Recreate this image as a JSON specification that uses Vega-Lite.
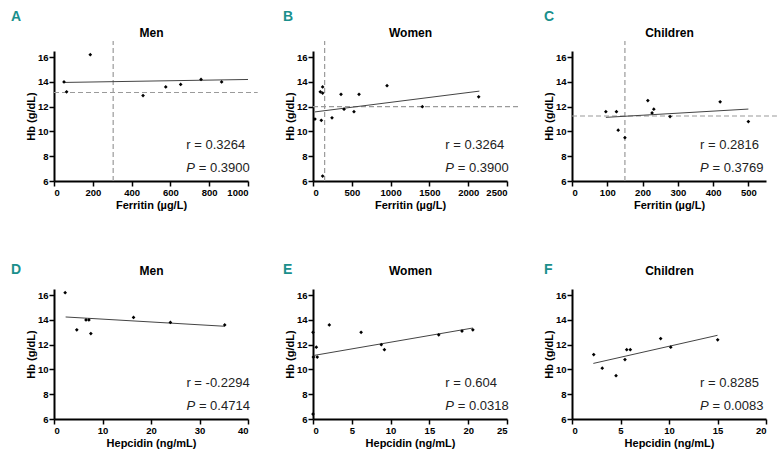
{
  "$schema": "https://vega.github.io/schema/vega-lite/v6.json",
  "background": "white",
  "padding": {"left": 11, "top": 10, "right": 0, "bottom": 0},
  "columns": 3,
  "bounds": "flush",
  "spacing": {"row": 108, "column": 65},
  "config": {
    "view": {"stroke": null},
    "axis": {
      "grid": false,
      "domainColor": "#000",
      "domainWidth": 2,
      "tickColor": "#000",
      "tickWidth": 1.5,
      "tickSize": 5,
      "labelFont": "Liberation Sans",
      "labelFontWeight": "bold",
      "labelFontSize": 9.5,
      "labelColor": "#000",
      "labelPadding": 1,
      "format": "d",
      "titleFont": "Liberation Sans",
      "titleFontWeight": "bold",
      "titleFontSize": 11,
      "titleColor": "#000",
      "titlePadding": 3
    },
    "axisY": {"labelOverlap": false, "titlePadding": 1},
    "title": {
      "anchor": "start",
      "frame": "group",
      "font": "Liberation Sans",
      "fontWeight": "bold",
      "fontSize": 14,
      "color": "#1a8f8c",
      "offset": 2
    },
    "text": {"font": "Liberation Sans", "fontSize": 13, "color": "#222", "align": "left", "baseline": "middle"}
  },
  "concat": [
    {
      "width": 194, "height": 130,
      "title": {"text": "A", "dx": -43},
      "resolve": {"axis": {"x": "independent"}},
      "layer": [
        {
          "data": {"values": [{"x": 305, "x2": 305, "y": 6, "y2": 17.3}, {"x": 0, "x2": 1050, "y": 13.15, "y2": 13.15}]},
          "mark": {"type": "rule", "strokeDash": [5, 3], "color": "#9a9a9a", "strokeWidth": 1.2, "clip": false},
          "encoding": {"x": {"field": "x", "type": "quantitative", "axis": null}, "x2": {"field": "x2"}, "y": {"field": "y", "type": "quantitative", "title": "Hb (g/dL)", "scale": {"domain": [6, 16.5], "nice": false, "zero": false}, "axis": {"values": [6, 8, 10, 12, 14, 16], "labelOverlap": false}}, "y2": {"field": "y2"}}
        },
        {
          "data": {"values": [{"x": 52, "y": 13.96}, {"x": 1000, "y": 14.2}]},
          "mark": {"type": "line", "color": "#444", "strokeWidth": 1},
          "encoding": {"x": {"field": "x", "type": "quantitative", "axis": {"orient": "top", "title": "Men", "labels": false, "ticks": false, "domain": false, "titleFont": "Liberation Sans", "titleFontSize": 12, "titlePadding": 12}}, "y": {"field": "y", "type": "quantitative", "title": "Hb (g/dL)", "scale": {"domain": [6, 16.5], "nice": false, "zero": false}, "axis": {"values": [6, 8, 10, 12, 14, 16], "labelOverlap": false}}}
        },
        {
          "data": {"values": [{"x": 51.5, "y": 14.0}, {"x": 65, "y": 13.2}, {"x": 187, "y": 16.2}, {"x": 459, "y": 12.9}, {"x": 576, "y": 13.6}, {"x": 653, "y": 13.8}, {"x": 758, "y": 14.2}, {"x": 864, "y": 14.0}]},
          "mark": {"type": "point", "shape": "diamond", "filled": true, "color": "#000", "size": 14, "opacity": 1},
          "encoding": {
            "x": {"field": "x", "type": "quantitative", "title": "Ferritin (µg/L)", "scale": {"domain": [0, 1000], "nice": false}, "axis": {"values": [0, 200, 400, 600, 800, 1000]}},
            "y": {"field": "y", "type": "quantitative", "title": "Hb (g/dL)", "scale": {"domain": [6, 16.5], "nice": false, "zero": false}, "axis": {"values": [6, 8, 10, 12, 14, 16], "labelOverlap": false}}
          }
        },
        {
          "data": {"values": [{"x": 682, "y": 8.9, "label": "r = 0.3264"}]},
          "mark": {"type": "text"},
          "encoding": {"x": {"field": "x", "type": "quantitative", "axis": null}, "y": {"field": "y", "type": "quantitative", "title": "Hb (g/dL)", "scale": {"domain": [6, 16.5], "nice": false, "zero": false}, "axis": {"values": [6, 8, 10, 12, 14, 16], "labelOverlap": false}}, "text": {"field": "label"}}
        },
        {
          "data": {"values": [{"x": 682, "y": 7.05, "label": "= 0.3900"}]},
          "mark": {"type": "text", "dx": 12.5},
          "encoding": {"x": {"field": "x", "type": "quantitative", "axis": null}, "y": {"field": "y", "type": "quantitative", "title": "Hb (g/dL)", "scale": {"domain": [6, 16.5], "nice": false, "zero": false}, "axis": {"values": [6, 8, 10, 12, 14, 16], "labelOverlap": false}}, "text": {"field": "label"}}
        },
        {
          "data": {"values": [{"x": 682, "y": 7.05, "label": "P"}]},
          "mark": {"type": "text", "fontStyle": "italic"},
          "encoding": {"x": {"field": "x", "type": "quantitative", "axis": null}, "y": {"field": "y", "type": "quantitative", "title": "Hb (g/dL)", "scale": {"domain": [6, 16.5], "nice": false, "zero": false}, "axis": {"values": [6, 8, 10, 12, 14, 16], "labelOverlap": false}}, "text": {"field": "label"}}
        }
      ]
    },
    {
      "width": 194, "height": 130,
      "title": {"text": "B", "dx": -30},
      "resolve": {"axis": {"x": "independent"}},
      "layer": [
        {
          "data": {"values": [{"x": 150, "x2": 150, "y": 6, "y2": 17.3}, {"x": 0, "x2": 2672, "y": 12.0, "y2": 12.0}]},
          "mark": {"type": "rule", "strokeDash": [5, 3], "color": "#9a9a9a", "strokeWidth": 1.2, "clip": false},
          "encoding": {"x": {"field": "x", "type": "quantitative", "axis": null}, "x2": {"field": "x2"}, "y": {"field": "y", "type": "quantitative", "title": "Hb (g/dL)", "scale": {"domain": [6, 16.5], "nice": false, "zero": false}, "axis": {"values": [6, 8, 10, 12, 14, 16], "labelOverlap": false}}, "y2": {"field": "y2"}}
        },
        {
          "data": {"values": [{"x": 25, "y": 11.58}, {"x": 2144, "y": 13.26}]},
          "mark": {"type": "line", "color": "#444", "strokeWidth": 1},
          "encoding": {"x": {"field": "x", "type": "quantitative", "axis": {"orient": "top", "title": "Women", "labels": false, "ticks": false, "domain": false, "titleFont": "Liberation Sans", "titleFontSize": 12, "titlePadding": 12}}, "y": {"field": "y", "type": "quantitative", "title": "Hb (g/dL)", "scale": {"domain": [6, 16.5], "nice": false, "zero": false}, "axis": {"values": [6, 8, 10, 12, 14, 16], "labelOverlap": false}}}
        },
        {
          "data": {"values": [{"x": 25, "y": 11.0}, {"x": 94, "y": 13.2}, {"x": 124, "y": 13.6}, {"x": 124, "y": 13.1}, {"x": 107, "y": 10.9}, {"x": 124, "y": 6.4}, {"x": 245, "y": 11.1}, {"x": 361, "y": 13.0}, {"x": 400, "y": 11.8}, {"x": 528, "y": 11.6}, {"x": 593, "y": 13.0}, {"x": 954, "y": 13.7}, {"x": 1409, "y": 12.0}, {"x": 2135, "y": 12.8}]},
          "mark": {"type": "point", "shape": "diamond", "filled": true, "color": "#000", "size": 14, "opacity": 1},
          "encoding": {
            "x": {"field": "x", "type": "quantitative", "title": "Ferritin (µg/L)", "scale": {"domain": [0, 2500], "nice": false}, "axis": {"values": [0, 500, 1000, 1500, 2000, 2500]}},
            "y": {"field": "y", "type": "quantitative", "title": "Hb (g/dL)", "scale": {"domain": [6, 16.5], "nice": false, "zero": false}, "axis": {"values": [6, 8, 10, 12, 14, 16], "labelOverlap": false}}
          }
        },
        {
          "data": {"values": [{"x": 1705, "y": 8.9, "label": "r = 0.3264"}]},
          "mark": {"type": "text"},
          "encoding": {"x": {"field": "x", "type": "quantitative", "axis": null}, "y": {"field": "y", "type": "quantitative", "title": "Hb (g/dL)", "scale": {"domain": [6, 16.5], "nice": false, "zero": false}, "axis": {"values": [6, 8, 10, 12, 14, 16], "labelOverlap": false}}, "text": {"field": "label"}}
        },
        {
          "data": {"values": [{"x": 1705, "y": 7.05, "label": "= 0.3900"}]},
          "mark": {"type": "text", "dx": 12.5},
          "encoding": {"x": {"field": "x", "type": "quantitative", "axis": null}, "y": {"field": "y", "type": "quantitative", "title": "Hb (g/dL)", "scale": {"domain": [6, 16.5], "nice": false, "zero": false}, "axis": {"values": [6, 8, 10, 12, 14, 16], "labelOverlap": false}}, "text": {"field": "label"}}
        },
        {
          "data": {"values": [{"x": 1705, "y": 7.05, "label": "P"}]},
          "mark": {"type": "text", "fontStyle": "italic"},
          "encoding": {"x": {"field": "x", "type": "quantitative", "axis": null}, "y": {"field": "y", "type": "quantitative", "title": "Hb (g/dL)", "scale": {"domain": [6, 16.5], "nice": false, "zero": false}, "axis": {"values": [6, 8, 10, 12, 14, 16], "labelOverlap": false}}, "text": {"field": "label"}}
        }
      ]
    },
    {
      "width": 194, "height": 130,
      "title": {"text": "C", "dx": -28},
      "resolve": {"axis": {"x": "independent"}},
      "layer": [
        {
          "data": {"values": [{"x": 150, "x2": 150, "y": 6, "y2": 17.3}, {"x": 0, "x2": 581, "y": 11.25, "y2": 11.25}]},
          "mark": {"type": "rule", "strokeDash": [5, 3], "color": "#9a9a9a", "strokeWidth": 1.2, "clip": false},
          "encoding": {"x": {"field": "x", "type": "quantitative", "axis": null}, "x2": {"field": "x2"}, "y": {"field": "y", "type": "quantitative", "title": "Hb (g/dL)", "scale": {"domain": [6, 16.5], "nice": false, "zero": false}, "axis": {"values": [6, 8, 10, 12, 14, 16], "labelOverlap": false}}, "y2": {"field": "y2"}}
        },
        {
          "data": {"values": [{"x": 96, "y": 11.14}, {"x": 500, "y": 11.81}]},
          "mark": {"type": "line", "color": "#444", "strokeWidth": 1},
          "encoding": {"x": {"field": "x", "type": "quantitative", "axis": {"orient": "top", "title": "Children", "labels": false, "ticks": false, "domain": false, "titleFont": "Liberation Sans", "titleFontSize": 12, "titlePadding": 12}}, "y": {"field": "y", "type": "quantitative", "title": "Hb (g/dL)", "scale": {"domain": [6, 16.5], "nice": false, "zero": false}, "axis": {"values": [6, 8, 10, 12, 14, 16], "labelOverlap": false}}}
        },
        {
          "data": {"values": [{"x": 96, "y": 11.6}, {"x": 126, "y": 11.6}, {"x": 131, "y": 10.1}, {"x": 150, "y": 9.5}, {"x": 215, "y": 12.5}, {"x": 232, "y": 11.8}, {"x": 227, "y": 11.5}, {"x": 278, "y": 11.2}, {"x": 420, "y": 12.4}, {"x": 500, "y": 10.8}]},
          "mark": {"type": "point", "shape": "diamond", "filled": true, "color": "#000", "size": 14, "opacity": 1},
          "encoding": {
            "x": {"field": "x", "type": "quantitative", "title": "Ferritin (µg/L)", "scale": {"domain": [0, 550], "nice": false}, "axis": {"values": [0, 100, 200, 300, 400, 500]}},
            "y": {"field": "y", "type": "quantitative", "title": "Hb (g/dL)", "scale": {"domain": [6, 16.5], "nice": false, "zero": false}, "axis": {"values": [6, 8, 10, 12, 14, 16], "labelOverlap": false}}
          }
        },
        {
          "data": {"values": [{"x": 363, "y": 8.9, "label": "r = 0.2816"}]},
          "mark": {"type": "text"},
          "encoding": {"x": {"field": "x", "type": "quantitative", "axis": null}, "y": {"field": "y", "type": "quantitative", "title": "Hb (g/dL)", "scale": {"domain": [6, 16.5], "nice": false, "zero": false}, "axis": {"values": [6, 8, 10, 12, 14, 16], "labelOverlap": false}}, "text": {"field": "label"}}
        },
        {
          "data": {"values": [{"x": 363, "y": 7.05, "label": "= 0.3769"}]},
          "mark": {"type": "text", "dx": 12.5},
          "encoding": {"x": {"field": "x", "type": "quantitative", "axis": null}, "y": {"field": "y", "type": "quantitative", "title": "Hb (g/dL)", "scale": {"domain": [6, 16.5], "nice": false, "zero": false}, "axis": {"values": [6, 8, 10, 12, 14, 16], "labelOverlap": false}}, "text": {"field": "label"}}
        },
        {
          "data": {"values": [{"x": 363, "y": 7.05, "label": "P"}]},
          "mark": {"type": "text", "fontStyle": "italic"},
          "encoding": {"x": {"field": "x", "type": "quantitative", "axis": null}, "y": {"field": "y", "type": "quantitative", "title": "Hb (g/dL)", "scale": {"domain": [6, 16.5], "nice": false, "zero": false}, "axis": {"values": [6, 8, 10, 12, 14, 16], "labelOverlap": false}}, "text": {"field": "label"}}
        }
      ]
    },
    {
      "width": 194, "height": 130,
      "title": {"text": "D", "dx": -43, "dy": 15},
      "resolve": {"axis": {"x": "independent"}},
      "layer": [
        {
          "data": {"values": [{"x": 2.4, "y": 14.24}, {"x": 35.2, "y": 13.49}]},
          "mark": {"type": "line", "color": "#444", "strokeWidth": 1},
          "encoding": {"x": {"field": "x", "type": "quantitative", "axis": {"orient": "top", "title": "Men", "labels": false, "ticks": false, "domain": false, "titleFont": "Liberation Sans", "titleFontSize": 12, "titlePadding": 12}}, "y": {"field": "y", "type": "quantitative", "title": "Hb (g/dL)", "scale": {"domain": [6, 16.5], "nice": false, "zero": false}, "axis": {"values": [6, 8, 10, 12, 14, 16], "labelOverlap": false}}}
        },
        {
          "data": {"values": [{"x": 2.3, "y": 16.2}, {"x": 4.7, "y": 13.2}, {"x": 6.6, "y": 14.0}, {"x": 7.2, "y": 14.0}, {"x": 7.6, "y": 12.9}, {"x": 16.4, "y": 14.2}, {"x": 24.0, "y": 13.8}, {"x": 35.2, "y": 13.6}]},
          "mark": {"type": "point", "shape": "diamond", "filled": true, "color": "#000", "size": 14, "opacity": 1},
          "encoding": {
            "x": {"field": "x", "type": "quantitative", "title": "Hepcidin (ng/mL)", "scale": {"domain": [0, 40], "nice": false}, "axis": {"values": [0, 10, 20, 30, 40]}},
            "y": {"field": "y", "type": "quantitative", "title": "Hb (g/dL)", "scale": {"domain": [6, 16.5], "nice": false, "zero": false}, "axis": {"values": [6, 8, 10, 12, 14, 16], "labelOverlap": false}}
          }
        },
        {
          "data": {"values": [{"x": 27.3, "y": 8.9, "label": "r = -0.2294"}]},
          "mark": {"type": "text"},
          "encoding": {"x": {"field": "x", "type": "quantitative", "axis": null}, "y": {"field": "y", "type": "quantitative", "title": "Hb (g/dL)", "scale": {"domain": [6, 16.5], "nice": false, "zero": false}, "axis": {"values": [6, 8, 10, 12, 14, 16], "labelOverlap": false}}, "text": {"field": "label"}}
        },
        {
          "data": {"values": [{"x": 27.3, "y": 7.05, "label": "= 0.4714"}]},
          "mark": {"type": "text", "dx": 12.5},
          "encoding": {"x": {"field": "x", "type": "quantitative", "axis": null}, "y": {"field": "y", "type": "quantitative", "title": "Hb (g/dL)", "scale": {"domain": [6, 16.5], "nice": false, "zero": false}, "axis": {"values": [6, 8, 10, 12, 14, 16], "labelOverlap": false}}, "text": {"field": "label"}}
        },
        {
          "data": {"values": [{"x": 27.3, "y": 7.05, "label": "P"}]},
          "mark": {"type": "text", "fontStyle": "italic"},
          "encoding": {"x": {"field": "x", "type": "quantitative", "axis": null}, "y": {"field": "y", "type": "quantitative", "title": "Hb (g/dL)", "scale": {"domain": [6, 16.5], "nice": false, "zero": false}, "axis": {"values": [6, 8, 10, 12, 14, 16], "labelOverlap": false}}, "text": {"field": "label"}}
        }
      ]
    },
    {
      "width": 194, "height": 130,
      "title": {"text": "E", "dx": -30, "dy": 15},
      "resolve": {"axis": {"x": "independent"}},
      "layer": [
        {
          "data": {"values": [{"x": 0.08, "y": 11.13}, {"x": 20.6, "y": 13.35}]},
          "mark": {"type": "line", "color": "#444", "strokeWidth": 1},
          "encoding": {"x": {"field": "x", "type": "quantitative", "axis": {"orient": "top", "title": "Women", "labels": false, "ticks": false, "domain": false, "titleFont": "Liberation Sans", "titleFontSize": 12, "titlePadding": 12}}, "y": {"field": "y", "type": "quantitative", "title": "Hb (g/dL)", "scale": {"domain": [6, 16.5], "nice": false, "zero": false}, "axis": {"values": [6, 8, 10, 12, 14, 16], "labelOverlap": false}}}
        },
        {
          "data": {"values": [{"x": 0, "y": 13.0}, {"x": 0.43, "y": 11.8}, {"x": 0.55, "y": 11.0}, {"x": 0.05, "y": 11.0}, {"x": 0, "y": 6.4}, {"x": 2.1, "y": 13.6}, {"x": 6.2, "y": 13.0}, {"x": 8.8, "y": 12.0}, {"x": 9.2, "y": 11.6}, {"x": 16.2, "y": 12.8}, {"x": 19.2, "y": 13.1}, {"x": 20.6, "y": 13.2}]},
          "mark": {"type": "point", "shape": "diamond", "filled": true, "color": "#000", "size": 14, "opacity": 1},
          "encoding": {
            "x": {"field": "x", "type": "quantitative", "title": "Hepcidin (ng/mL)", "scale": {"domain": [0, 25], "nice": false}, "axis": {"values": [0, 5, 10, 15, 20, 25]}},
            "y": {"field": "y", "type": "quantitative", "title": "Hb (g/dL)", "scale": {"domain": [6, 16.5], "nice": false, "zero": false}, "axis": {"values": [6, 8, 10, 12, 14, 16], "labelOverlap": false}}
          }
        },
        {
          "data": {"values": [{"x": 17.05, "y": 8.9, "label": "r = 0.604"}]},
          "mark": {"type": "text"},
          "encoding": {"x": {"field": "x", "type": "quantitative", "axis": null}, "y": {"field": "y", "type": "quantitative", "title": "Hb (g/dL)", "scale": {"domain": [6, 16.5], "nice": false, "zero": false}, "axis": {"values": [6, 8, 10, 12, 14, 16], "labelOverlap": false}}, "text": {"field": "label"}}
        },
        {
          "data": {"values": [{"x": 17.05, "y": 7.05, "label": "= 0.0318"}]},
          "mark": {"type": "text", "dx": 12.5},
          "encoding": {"x": {"field": "x", "type": "quantitative", "axis": null}, "y": {"field": "y", "type": "quantitative", "title": "Hb (g/dL)", "scale": {"domain": [6, 16.5], "nice": false, "zero": false}, "axis": {"values": [6, 8, 10, 12, 14, 16], "labelOverlap": false}}, "text": {"field": "label"}}
        },
        {
          "data": {"values": [{"x": 17.05, "y": 7.05, "label": "P"}]},
          "mark": {"type": "text", "fontStyle": "italic"},
          "encoding": {"x": {"field": "x", "type": "quantitative", "axis": null}, "y": {"field": "y", "type": "quantitative", "title": "Hb (g/dL)", "scale": {"domain": [6, 16.5], "nice": false, "zero": false}, "axis": {"values": [6, 8, 10, 12, 14, 16], "labelOverlap": false}}, "text": {"field": "label"}}
        }
      ]
    },
    {
      "width": 194, "height": 130,
      "title": {"text": "F", "dx": -28, "dy": 15},
      "resolve": {"axis": {"x": "independent"}},
      "layer": [
        {
          "data": {"values": [{"x": 2.2, "y": 10.49}, {"x": 15.0, "y": 12.76}]},
          "mark": {"type": "line", "color": "#444", "strokeWidth": 1},
          "encoding": {"x": {"field": "x", "type": "quantitative", "axis": {"orient": "top", "title": "Children", "labels": false, "ticks": false, "domain": false, "titleFont": "Liberation Sans", "titleFontSize": 12, "titlePadding": 12}}, "y": {"field": "y", "type": "quantitative", "title": "Hb (g/dL)", "scale": {"domain": [6, 16.5], "nice": false, "zero": false}, "axis": {"values": [6, 8, 10, 12, 14, 16], "labelOverlap": false}}}
        },
        {
          "data": {"values": [{"x": 2.24, "y": 11.2}, {"x": 3.12, "y": 10.1}, {"x": 4.54, "y": 9.5}, {"x": 5.46, "y": 10.8}, {"x": 5.64, "y": 11.6}, {"x": 6.01, "y": 11.6}, {"x": 9.14, "y": 12.5}, {"x": 10.18, "y": 11.8}, {"x": 15.02, "y": 12.4}]},
          "mark": {"type": "point", "shape": "diamond", "filled": true, "color": "#000", "size": 14, "opacity": 1},
          "encoding": {
            "x": {"field": "x", "type": "quantitative", "title": "Hepcidin (ng/mL)", "scale": {"domain": [0, 20], "nice": false}, "axis": {"values": [0, 5, 10, 15, 20]}},
            "y": {"field": "y", "type": "quantitative", "title": "Hb (g/dL)", "scale": {"domain": [6, 16.5], "nice": false, "zero": false}, "axis": {"values": [6, 8, 10, 12, 14, 16], "labelOverlap": false}}
          }
        },
        {
          "data": {"values": [{"x": 13.2, "y": 8.9, "label": "r = 0.8285"}]},
          "mark": {"type": "text"},
          "encoding": {"x": {"field": "x", "type": "quantitative", "axis": null}, "y": {"field": "y", "type": "quantitative", "title": "Hb (g/dL)", "scale": {"domain": [6, 16.5], "nice": false, "zero": false}, "axis": {"values": [6, 8, 10, 12, 14, 16], "labelOverlap": false}}, "text": {"field": "label"}}
        },
        {
          "data": {"values": [{"x": 13.2, "y": 7.05, "label": "= 0.0083"}]},
          "mark": {"type": "text", "dx": 12.5},
          "encoding": {"x": {"field": "x", "type": "quantitative", "axis": null}, "y": {"field": "y", "type": "quantitative", "title": "Hb (g/dL)", "scale": {"domain": [6, 16.5], "nice": false, "zero": false}, "axis": {"values": [6, 8, 10, 12, 14, 16], "labelOverlap": false}}, "text": {"field": "label"}}
        },
        {
          "data": {"values": [{"x": 13.2, "y": 7.05, "label": "P"}]},
          "mark": {"type": "text", "fontStyle": "italic"},
          "encoding": {"x": {"field": "x", "type": "quantitative", "axis": null}, "y": {"field": "y", "type": "quantitative", "title": "Hb (g/dL)", "scale": {"domain": [6, 16.5], "nice": false, "zero": false}, "axis": {"values": [6, 8, 10, 12, 14, 16], "labelOverlap": false}}, "text": {"field": "label"}}
        }
      ]
    }
  ]
}
